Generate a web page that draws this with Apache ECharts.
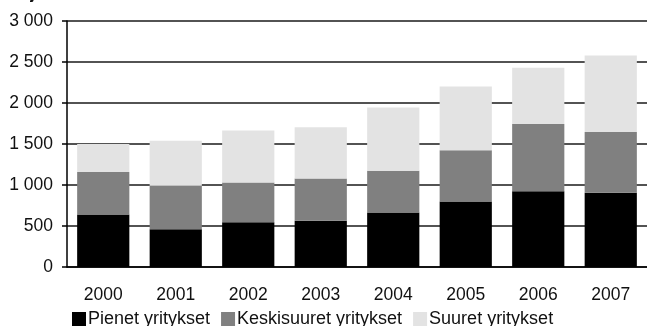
<!DOCTYPE html>
<html>
<head>
<meta charset="utf-8">
<style>
  html, body { margin: 0; padding: 0; background: #fff; }
  #chart { width: 647px; height: 326px; }
</style>
<script src="https://cdn.jsdelivr.net/npm/echarts@6/dist/echarts.min.js"></script>
</head>
<body>
<div id="chart"></div>
<script>
// Yritysten määrä kokoluokittain, milj. €
const years = ['2000', '2001', '2002', '2003', '2004', '2005', '2006', '2007'];
const pienet = [640, 460, 545, 565, 665, 800, 925, 905];
const keskisuuret = [520, 530, 485, 515, 510, 625, 820, 740];
const suuret = [340, 550, 635, 625, 770, 775, 685, 935];
const seriesNames = ['Pienet yritykset', 'Keskisuuret yritykset', 'Suuret yritykset'];
const yTicks = [0, 500, 1000, 1500, 2000, 2500, 3000];
const yTickLabels = ['0', '500', '1 000', '1 500', '2 000', '2 500', '3 000'];

const font = '"Liberation Sans", Arial, sans-serif';
const colors = ['#000000', '#808080', '#e3e3e3'];

const chart = echarts.init(document.getElementById('chart'), null, { renderer: 'canvas' });

chart.setOption({
  animation: false,
  backgroundColor: '#ffffff',
  title: {
    text: 'Milj. €',
    left: 8,
    top: -13,
    padding: 0,
    textStyle: { fontFamily: font, fontSize: 16, fontWeight: 'bold', color: '#111' }
  },
  legend: {
    data: seriesNames,
    left: 72,
    top: 310,
    padding: 0,
    itemWidth: 14,
    itemHeight: 14,
    itemGap: 11,
    icon: 'rect',
    textStyle: { fontFamily: font, fontSize: 18, color: '#111', padding: [0, 0, 0, -3] }
  },
  grid: { left: 67, right: -8, top: 21, bottom: 59, containLabel: false },
  xAxis: {
    type: 'category',
    data: years,
    axisLine: { lineStyle: { color: '#000', width: 1.5 } },
    axisTick: { show: false },
    axisLabel: { fontFamily: font, fontSize: 17.5, color: '#111', margin: 19 }
  },
  yAxis: {
    type: 'value',
    min: yTicks[0],
    max: yTicks[yTicks.length - 1],
    interval: 500,
    axisLine: { show: true, lineStyle: { color: '#000', width: 1.5 } },
    axisTick: { show: true, length: 5, lineStyle: { color: '#000', width: 1.5 } },
    splitLine: { show: true, lineStyle: { color: '#1a1a1a', width: 1.5 } },
    axisLabel: {
      fontFamily: font, fontSize: 17.5, color: '#111', margin: 14,
      formatter: v => yTickLabels[yTicks.indexOf(v)]
    }
  },
  series: [pienet, keskisuuret, suuret].map((d, i) => ({
    name: seriesNames[i],
    type: 'bar',
    stack: 'total',
    data: d,
    barCategoryGap: '28%',
    itemStyle: { color: colors[i] }
  }))
});
</script>
</body>
</html>
